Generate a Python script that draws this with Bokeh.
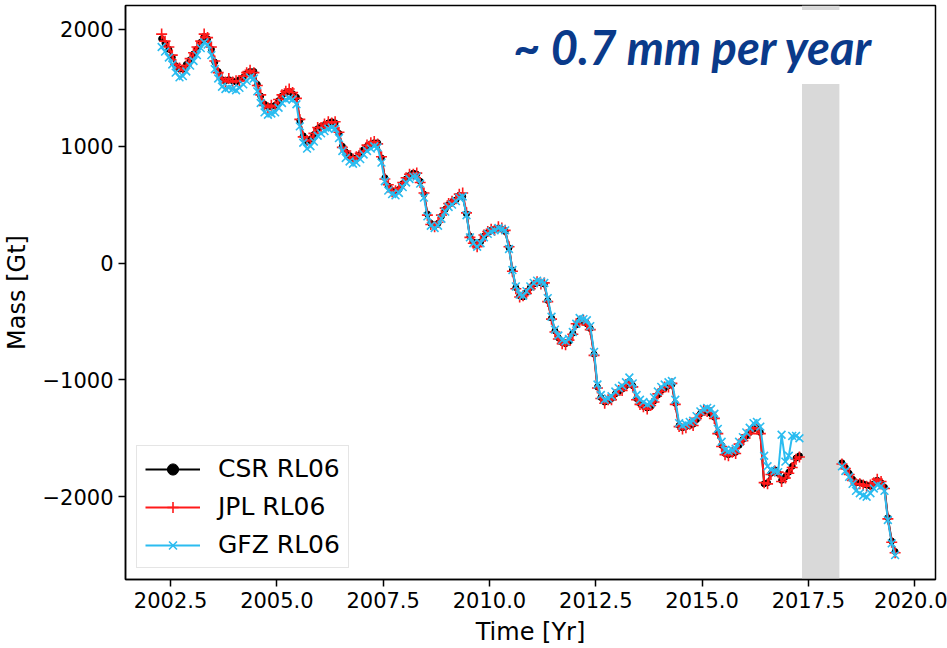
from bokeh.plotting import figure
from bokeh.models import (Range1d, FixedTicker, NumeralTickFormatter, Legend,
                          LegendItem, BoxAnnotation, Label)
from bokeh.embed import file_html
from bokeh.resources import INLINE

# ---------------- data ----------------
time_grace = [
    2002.29, 2002.37, 2002.46, 2002.54, 2002.62, 2002.71, 2002.79, 2002.87, 2002.96,
    2003.04, 2003.12, 2003.21, 2003.29, 2003.37, 2003.46, 2003.54, 2003.62, 2003.71, 2003.79, 2003.87, 2003.96,
    2004.04, 2004.12, 2004.21, 2004.29, 2004.37, 2004.46, 2004.54, 2004.62, 2004.71, 2004.79, 2004.87, 2004.96,
    2005.04, 2005.12, 2005.21, 2005.29, 2005.37, 2005.46, 2005.54, 2005.62, 2005.71, 2005.79, 2005.87, 2005.96,
    2006.04, 2006.12, 2006.21, 2006.29, 2006.37, 2006.46, 2006.54, 2006.62, 2006.71, 2006.79, 2006.87, 2006.96,
    2007.04, 2007.12, 2007.21, 2007.29, 2007.37, 2007.46, 2007.54, 2007.62, 2007.71, 2007.79, 2007.87, 2007.96,
    2008.04, 2008.12, 2008.21, 2008.29, 2008.37, 2008.46, 2008.54, 2008.62, 2008.71, 2008.79, 2008.87, 2008.96,
    2009.04, 2009.12, 2009.21, 2009.29, 2009.37, 2009.46, 2009.54, 2009.62, 2009.71, 2009.79, 2009.87, 2009.96,
    2010.04, 2010.12, 2010.21, 2010.29, 2010.37, 2010.46, 2010.54, 2010.62, 2010.71, 2010.79, 2010.87, 2010.96,
    2011.04, 2011.12, 2011.21, 2011.29, 2011.37, 2011.46, 2011.54, 2011.62, 2011.71, 2011.79, 2011.87, 2011.96,
    2012.04, 2012.12, 2012.21, 2012.29, 2012.37, 2012.46, 2012.54, 2012.62, 2012.71, 2012.79, 2012.87, 2012.96,
    2013.04, 2013.12, 2013.21, 2013.29, 2013.37, 2013.46, 2013.54, 2013.62, 2013.71, 2013.79, 2013.87, 2013.96,
    2014.04, 2014.12, 2014.21, 2014.29, 2014.37, 2014.46, 2014.54, 2014.62, 2014.71, 2014.79, 2014.87, 2014.96,
    2015.04, 2015.12, 2015.21, 2015.29, 2015.37, 2015.46, 2015.54, 2015.62, 2015.71, 2015.79, 2015.87, 2015.96,
    2016.04, 2016.12, 2016.21, 2016.29, 2016.37, 2016.46, 2016.54, 2016.62, 2016.71, 2016.79, 2016.87, 2016.96,
    2017.04, 2017.12, 2017.21, 2017.29,
]
time_gfo = [
    2018.29, 2018.37, 2018.46, 2018.54, 2018.62, 2018.71, 2018.79, 2018.87, 2018.96,
    2019.04, 2019.12, 2019.21, 2019.29, 2019.37, 2019.46, 2019.54,
]

csr_grace = [
    1920, 1880, 1830, 1760, 1690, 1660, 1660, 1700, 1740,
    1790, 1830, 1890, 1940, 1920, 1830, 1720, 1640, 1570, 1560, 1570, 1560,
    1550, 1570, 1590, 1620, 1640, 1640, 1530, 1430, 1360, 1340, 1340, 1350,
    1390, 1430, 1460, 1470, 1450, 1420, 1220, 1090, 1040, 1060, 1100, 1150,
    1170, 1180, 1200, 1210, 1200, 1110, 1000, 950, 920, 900, 900, 930,
    970, 1000, 1020, 1030, 1030, 900, 730, 660, 620, 610, 630, 680,
    720, 750, 770, 760, 700, 590, 420, 340, 320, 340, 400, 460,
    500, 520, 540, 580, 570, 420, 230, 180, 150, 180, 230, 260,
    280, 290, 300, 290, 270, 130, -60, -210, -280, -290, -250, -210,
    -180, -170, -170, -180, -320, -470, -580, -640, -680, -690, -670, -600,
    -530, -490, -500, -520, -560, -780, -1060, -1150, -1190, -1180, -1160, -1120,
    -1100, -1080, -1050, -1010, -1050, -1160, -1200, -1220, -1240, -1230, -1180, -1130,
    -1090, -1070, -1050, -1040, -1200, -1390, -1410, -1400, -1390, -1380, -1340, -1290,
    -1270, -1260, -1290, -1320, -1450, -1560, -1630, -1640, -1630, -1620, -1560, -1510,
    -1480, -1450, -1420, -1410, -1450, -1890, -1880, -1800, -1770, -1800, -1860, -1830,
    -1790, -1740, -1670, -1650,
]
csr_gfo = [
    -1710, -1750, -1800, -1850, -1880, -1880, -1890, -1900, -1910,
    -1890, -1860, -1880, -1920, -2180, -2380, -2470,
]

jpl_grace = [
    1960, 1900, 1850, 1780, 1700, 1670, 1650, 1690, 1750,
    1800, 1850, 1900, 1960, 1930, 1850, 1730, 1630, 1580, 1550, 1580, 1550,
    1560, 1560, 1600, 1630, 1650, 1630, 1520, 1440, 1350, 1330, 1350, 1340,
    1400, 1440, 1470, 1490, 1460, 1410, 1230, 1080, 1050, 1050, 1110, 1160,
    1160, 1190, 1210, 1200, 1210, 1120, 990, 960, 910, 890, 910, 940,
    960, 1010, 1030, 1040, 1020, 910, 720, 670, 610, 620, 640, 690,
    730, 760, 760, 770, 690, 600, 410, 330, 310, 350, 410, 470,
    510, 530, 550, 590, 600, 430, 220, 170, 140, 190, 240, 270,
    290, 280, 310, 300, 280, 140, -70, -220, -290, -280, -260, -220,
    -190, -160, -180, -170, -330, -480, -590, -650, -690, -700, -660, -610,
    -520, -500, -490, -530, -570, -790, -1070, -1160, -1200, -1170, -1170, -1130,
    -1090, -1090, -1040, -1020, -1060, -1170, -1210, -1230, -1250, -1220, -1190, -1120,
    -1100, -1060, -1060, -1030, -1210, -1400, -1420, -1410, -1380, -1390, -1330, -1300,
    -1260, -1270, -1280, -1330, -1460, -1570, -1640, -1650, -1620, -1630, -1550, -1520,
    -1470, -1460, -1410, -1420, -1460, -1880, -1890, -1810, -1780, -1790, -1870, -1840,
    -1800, -1750, -1680, -1660,
]
jpl_gfo = [
    -1720, -1760, -1810, -1860, -1890, -1890, -1900, -1910, -1900,
    -1880, -1850, -1870, -1930, -2190, -2390, -2480,
]

gfz_grace = [
    1850, 1810, 1760, 1700, 1630, 1590, 1600, 1640, 1690,
    1730, 1780, 1840, 1890, 1870, 1780, 1660, 1580, 1510, 1490, 1500, 1490,
    1480, 1500, 1530, 1560, 1590, 1580, 1470, 1370, 1290, 1270, 1280, 1290,
    1330, 1370, 1400, 1410, 1400, 1360, 1170, 1030, 980, 1000, 1040, 1090,
    1110, 1130, 1150, 1160, 1150, 1070, 960, 900, 870, 850, 860, 890,
    930, 960, 980, 1000, 990, 860, 700, 620, 590, 580, 600, 650,
    690, 720, 740, 740, 680, 560, 400, 320, 300, 320, 380, 440,
    480, 500, 530, 560, 570, 410, 220, 170, 140, 170, 220, 250,
    270, 280, 300, 290, 280, 120, -60, -200, -270, -280, -240, -200,
    -170, -150, -160, -170, -300, -460, -570, -620, -660, -670, -650, -590,
    -520, -470, -480, -490, -540, -760, -1040, -1130, -1170, -1160, -1140, -1100,
    -1070, -1050, -1020, -980, -1030, -1130, -1170, -1190, -1210, -1200, -1150, -1100,
    -1060, -1040, -1020, -1010, -1170, -1370, -1390, -1380, -1360, -1350, -1310, -1270,
    -1250, -1240, -1250, -1290, -1420, -1530, -1600, -1610, -1600, -1590, -1530, -1490,
    -1450, -1410, -1370, -1360, -1400, -1650, -1740, -1770, -1780, -1790, -1470, -1700,
    -1650, -1480, -1480, -1500,
]
gfz_gfo = [
    -1740, -1780, -1830, -1890, -1950, -1970, -1990, -2000, -1970,
    -1930, -1900, -1910, -1950, -2200, -2400, -2500,
]

gap_years = [2017.35, 2018.23]
x_ticks = [2002.5, 2005.0, 2007.5, 2010.0, 2012.5, 2015.0, 2017.5, 2020.0]
y_ticks = [-2000, -1000, 0, 1000, 2000]
y_tick_labels = ["\u22122000", "\u22121000", "0", "1000", "2000"]
series_names = ["CSR RL06", "JPL RL06", "GFZ RL06"]
annotation_text = "~ 0.7 mm per year"

# ---------------- figure ----------------
p = figure(width=947, height=648, output_backend="svg", toolbar_location=None,
           x_range=Range1d(2001.44, 2020.49), y_range=Range1d(-2709, 2205),
           min_border_left=123, min_border_right=12, min_border_top=5,
           min_border_bottom=68)
p.background_fill_color = "white"
p.border_fill_color = "white"
p.outline_line_color = "black"
p.outline_line_width = 1.5
p.xgrid.visible = False
p.ygrid.visible = False

band = BoxAnnotation(left=gap_years[0], right=gap_years[1], fill_color="#d9d9d9",
                     fill_alpha=1.0, line_color=None, level="underlay")
p.add_layout(band)

FONT = "DejaVu Sans"
for ax in (p.xaxis[0], p.yaxis[0]):
    ax.axis_line_color = "black"
    ax.axis_line_width = 1.5
    ax.major_tick_out = 7
    ax.major_tick_in = 0
    ax.minor_tick_out = 0
    ax.minor_tick_in = 0
    ax.major_tick_line_width = 1.5
    ax.major_tick_line_color = "black"
    ax.major_label_text_font = FONT
    ax.major_label_text_font_size = "21px"
    ax.major_label_text_color = "black"
    ax.major_label_standoff = 5
    ax.axis_label_text_font = FONT
    ax.axis_label_text_font_size = "24px"
    ax.axis_label_text_font_style = "normal"
    ax.axis_label_text_color = "black"

p.xaxis.ticker = FixedTicker(ticks=x_ticks)
p.xaxis.formatter = NumeralTickFormatter(format="0.0")
p.xaxis.axis_label = "Time [Yr]"
p.xaxis.axis_label_standoff = 7
p.yaxis.ticker = FixedTicker(ticks=y_ticks)
p.yaxis.major_label_overrides = {t: lab for t, lab in zip(y_ticks, y_tick_labels)}
p.yaxis.axis_label = "Mass [Gt]"
p.yaxis.axis_label_standoff = 8

styles = [
    dict(color="black", marker="circle", size=6, lw=2.0),
    dict(color="#ff1a1a", marker="cross", size=11, lw=2.0),
    dict(color="#2bbcf0", marker="x", size=11, lw=2.0),
]
segments = [
    [(time_grace, csr_grace), (time_gfo, csr_gfo)],
    [(time_grace, jpl_grace), (time_gfo, jpl_gfo)],
    [(time_grace, gfz_grace), (time_gfo, gfz_gfo)],
]

items = []
for name, st, segs in zip(series_names, styles, segments):
    rends = []
    for i, (tx, vy) in enumerate(segs):
        ln = p.line(tx, vy, line_color=st["color"], line_width=st["lw"])
        if st["marker"] == "circle":
            sc = p.scatter(tx, vy, marker="circle", size=st["size"],
                           fill_color=st["color"], line_color=st["color"])
        else:
            sc = p.scatter(tx, vy, marker=st["marker"], size=st["size"],
                           line_color=st["color"], line_width=1.6)
        if i == 0:
            rends += [ln, sc]
    items.append(LegendItem(label=name, renderers=rends))

legend = Legend(items=items, location="bottom_left",
                label_text_font=FONT, label_text_font_size="25px",
                label_text_color="black",
                glyph_width=55, glyph_height=28, label_height=28,
                spacing=9, padding=8, margin=11, label_standoff=18,
                border_line_color="#cccccc", border_line_width=1,
                background_fill_color="white", background_fill_alpha=0.9)
p.add_layout(legend)

lbl = Label(x=2014.79, y=1850, text=annotation_text, text_font="Lato",
            text_font_style="bold italic", text_font_size="47px",
            text_color="#0a3a8a", text_align="center", text_baseline="middle",
            background_fill_color="white", background_fill_alpha=1.0,
            padding=9)
p.add_layout(lbl)

open("out.html", "w").write(file_html(p, INLINE))
